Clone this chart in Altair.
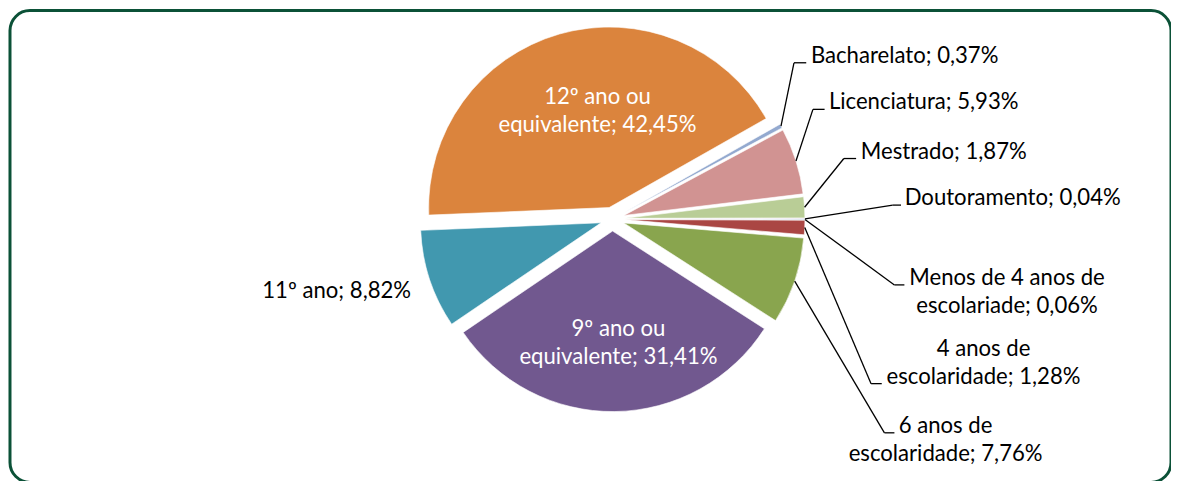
import altair as alt
import pandas as pd

# ---- data (clockwise from the first slice) ----
categories = [
    "Menos de 4 anos de escolariade",
    "4 anos de escolaridade",
    "6 anos de escolaridade",
    "9º ano ou equivalente",
    "11º ano",
    "12º ano ou equivalente",
    "Bacharelato",
    "Licenciatura",
    "Mestrado",
    "Doutoramento",
]
values = [0.06, 1.28, 7.76, 31.41, 8.82, 42.45, 0.37, 5.93, 1.87, 0.04]
label_lines = [
    ["Menos de 4 anos de", "escolariade; 0,06%"],
    ["4 anos de", "escolaridade; 1,28%"],
    ["6 anos de", "escolaridade; 7,76%"],
    ["9º ano ou", "equivalente; 31,41%"],
    ["11º ano; 8,82%"],
    ["12º ano ou", "equivalente; 42,45%"],
    ["Bacharelato; 0,37%"],
    ["Licenciatura; 5,93%"],
    ["Mestrado; 1,87%"],
    ["Doutoramento; 0,04%"],
]
colors = ["#4572A7", "#AA4643", "#89A54E", "#71588F", "#4198AF",
          "#DB843D", "#93A9CF", "#D19392", "#B9CD96", "#A99BBD"]

# ---- layout (page pixels) ----
OX, OY = 10, 10                  # view origin on the page
CX, CY, R, E = 614, 219, 181, 12  # pie centre, radius, explosion
T0 = 1.5707963                   # first slice angle (90 deg)
FONT = "Lato"
FS = 22.2
# label anchor x, baseline y, align, text colour, elbow x, elbow y, end x
label_layout = [
    (1009.6, 285, "center", "black", 896.7, 285, 906.7),
    (986, 356, "center", "black", 873.3, 384, 884),
    (948, 433.3, "center", "black", 886.7, 433.3, 896.7),
    (620, 336, "center", "white", None, None, None),
    (337.5, 298.3, "center", "black", None, None, None),
    (599, 103.3, "center", "white", None, None, None),
    (813, 62.3, "left", "black", 796, 62.3, 808.3),
    (831, 108.5, "left", "black", 815, 109, 826.7),
    (863, 158.3, "left", "black", 846, 158.3, 858.3),
    (907, 205, "left", "black", 895, 205, 903.3),
]

rows = []
for i, (c, v, ll, col, lay) in enumerate(zip(categories, values, label_lines, colors, label_layout)):
    lx, ly, al, tc, bx, by, ex = lay
    rows.append(dict(
        order=i, category=c, value=v, lines=ll, tcolor=tc, align=al,
        lx=lx - OX, ly=ly - OY,
        bx=None if bx is None else bx - OX,
        by=None if by is None else by - OY,
        ex2=None if ex is None else ex - OX,
        leader=bx is not None,
    ))
df = pd.DataFrame(rows)

base = (
    alt.Chart(df)
    .transform_window(cum="sum(value)", frame=[None, 0], sort=[alt.SortField("order")])
    .transform_joinaggregate(total="sum(value)")
    .transform_calculate(
        a0=f"{T0} + 2*PI*(datum.cum - datum.value)/datum.total",
        a1=f"{T0} + 2*PI*datum.cum/datum.total",
    )
    .transform_calculate(mid="(datum.a0 + datum.a1)/2")
    .transform_calculate(
        cx=f"{CX - OX} + {E}*sin(datum.mid)",
        cy=f"{CY - OY} - {E}*cos(datum.mid)",
    )
    .transform_calculate(
        px=f"datum.cx + {R}*sin(datum.mid)",
        py=f"datum.cy - {R}*cos(datum.mid)",
    )
)

arcs = base.mark_arc(radius=R, stroke="white", strokeWidth=0.6).encode(
    theta=alt.Theta("a0:Q", scale=None, stack=None),
    theta2="a1:Q",
    x=alt.X("cx:Q", scale=None),
    y=alt.Y("cy:Q", scale=None),
    color=alt.Color("category:N", scale=alt.Scale(domain=categories, range=colors), legend=None),
)

lead = base.transform_filter("datum.leader")
rule1 = lead.mark_rule(color="black", strokeWidth=1.3).encode(
    x=alt.X("px:Q", scale=None), y=alt.Y("py:Q", scale=None),
    x2="bx:Q", y2="by:Q",
)
rule2 = lead.mark_rule(color="black", strokeWidth=1.3).encode(
    x=alt.X("bx:Q", scale=None), y=alt.Y("by:Q", scale=None),
    x2="ex2:Q", y2="by:Q",
)

def text_layer(al):
    return base.transform_filter(f"datum.align == '{al}'").mark_text(
        font=FONT, fontSize=FS, lineHeight=28.5, align=al, baseline="alphabetic"
    ).encode(
        x=alt.X("lx:Q", scale=None),
        y=alt.Y("ly:Q", scale=None),
        text=alt.Text("lines"),
        color=alt.Color("tcolor:N", scale=None),
    )

chart = alt.layer(arcs, rule1, rule2, text_layer("left"), text_layer("center")).properties(
    width=1164, height=473,
    padding={"left": 2, "top": 2, "right": 0, "bottom": 0},
    autosize=alt.AutoSizeParams(type="none"),
    background="white",
).configure_view(
    stroke="#0b5137", strokeWidth=3, cornerRadius=20
)

chart.save("out.html", embed_options={"renderer": "svg", "actions": False})
